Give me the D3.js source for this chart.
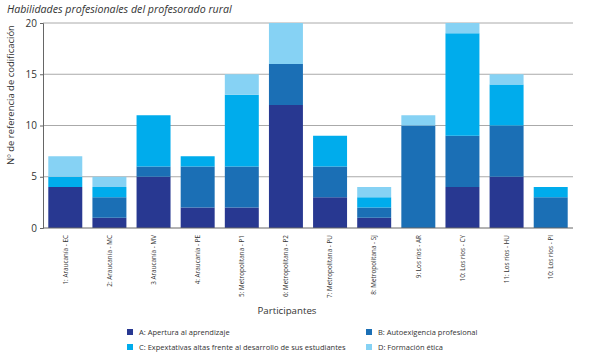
<!DOCTYPE html>
<html><head><meta charset="utf-8">
<script src="https://cdn.jsdelivr.net/npm/d3@7"></script>
<style>body{margin:0;background:#fff}svg{display:block;font-family:"Open Sans",sans-serif}</style>
</head><body>
<script>
const categories = ["1: Araucanía - EC","2: Araucanía - MC","3 Araucanía - MV","4: Araucanía - PE","5: Metropolitana - P1","6: Metropolitana - P2","7: Metropolitana - PU","8: Metropolitana - SJ","9: Los ríos - AR","10: Los ríos - CY","11: Los ríos - HU","10: Los ríos - PI"];
const seriesNames = ["A: Apertura al aprendizaje","B: Autoexigencia profesional","C: Expextativas altas frente al desarrollo de sus estudiantes","D: Formación ética"];
const seriesA = [4,1,5,2,2,12,3,1,0,4,5,0];
const seriesB = [0,2,1,4,4,4,3,1,10,5,5,3];
const seriesC = [1,1,5,1,7,0,3,1,0,10,4,1];
const seriesD = [2,1,0,0,2,4,0,1,1,1,1,0];
const yTicks = [0,5,10,15,20];
const colors = ["#283891","#1b6fb5","#00acec","#86d2f4"];

const W=589,H=358;
const svg=d3.select("body").append("svg").attr("width",W).attr("height",H);
const x=d3.scaleBand().domain(categories).range([43,573]).paddingInner(0.23).paddingOuter(0.12);
const y=d3.scaleLinear().domain([0,20]).range([228,23]);

function fitSize(sel, base, target){
  const n=sel.node(); const len=n.getComputedTextLength();
  return base*target/len;
}

const title=svg.append("text").attr("x",7).attr("y",13).attr("font-size",11).attr("font-style","italic").attr("fill","#333").text("Habilidades profesionales del profesorado rural");
title.attr("font-size",fitSize(title,11,225));

svg.append("g").selectAll("line").data(yTicks.filter(d=>d>0)).join("line")
 .attr("x1",43).attr("x2",573).attr("y1",d=>y(d)).attr("y2",d=>y(d)).attr("stroke","#aaa").attr("stroke-width",1);

const data = categories.map((c,i)=>({cat:c,A:seriesA[i],B:seriesB[i],C:seriesC[i],D:seriesD[i]}));
const stack=d3.stack().keys(["A","B","C","D"])(data);
svg.append("g").selectAll("g").data(stack).join("g").attr("fill",(d,i)=>colors[i])
 .selectAll("rect").data(d=>d).join("rect")
 .attr("x",d=>x(d.data.cat)).attr("width",x.bandwidth())
 .attr("y",d=>y(d[1])).attr("height",d=>y(d[0])-y(d[1]));

const ya=svg.append("g").attr("transform","translate(43,0)").call(d3.axisLeft(y).tickValues(yTicks).tickSize(3));
ya.select(".domain").attr("stroke","#666");
ya.selectAll(".tick line").attr("stroke","#666");
ya.selectAll("text").attr("font-size",10).attr("fill","#333").attr("font-family","Open Sans");

svg.append("line").attr("x1",43).attr("x2",573).attr("y1",y(0)).attr("y2",y(0)).attr("stroke","#666");

const xa=svg.append("g").attr("transform","translate(0,228)").call(d3.axisBottom(x).tickSize(0));
xa.select(".domain").remove();
const xt=xa.selectAll("text").attr("font-size",8).attr("fill","#333").attr("font-family","Open Sans")
 .attr("transform","rotate(-90)").attr("text-anchor","end").attr("dx","-7").attr("dy","0.35em").attr("x",0).attr("y",0);
const ref=xt.filter(d=>d==="5: Metropolitana - P1");
const xfs=fitSize(ref,8,62);
xt.attr("font-size",xfs);

const yt=svg.append("text").attr("transform","translate(14,95) rotate(-90)").attr("text-anchor","middle").attr("font-size",10).attr("fill","#333").text("Nº de referencia de codificación");
yt.attr("font-size",fitSize(yt,10,140));
const pt=svg.append("text").attr("x",287).attr("y",314).attr("text-anchor","middle").attr("font-size",10).attr("fill","#333").text("Participantes");
pt.attr("font-size",fitSize(pt,10,59));

const legPos=[[127,332],[366,332],[127,347],[366,347]];
const lg=svg.append("g").selectAll("g").data(seriesNames).join("g").attr("transform",(d,i)=>`translate(${legPos[i][0]},${legPos[i][1]})`);
lg.append("rect").attr("x",0).attr("y",-3).attr("width",6).attr("height",6).attr("fill",(d,i)=>colors[i]);
const lt=lg.append("text").attr("x",12).attr("y",0).attr("dy","0.35em").attr("font-size",8).attr("fill","#333").text(d=>d);
const lfs=fitSize(lt.filter((d,i)=>i===2),8,207);
lt.attr("font-size",lfs);
</script>
</body></html>
